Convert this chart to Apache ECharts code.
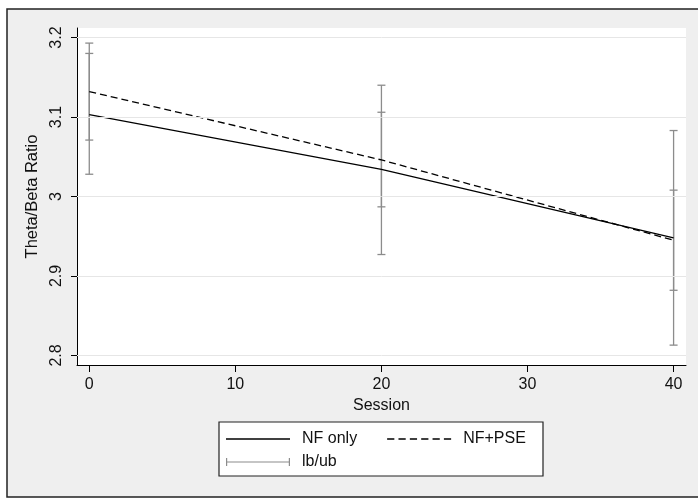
<!DOCTYPE html>
<html>
<head>
<meta charset="utf-8">
<script src="https://cdn.jsdelivr.net/npm/echarts@6/dist/echarts.min.js"></script>
<style>html,body{margin:0;padding:0;background:#fff}#c{width:698px;height:500px}</style>
</head>
<body>
<div id="c"></div>
<script>
const sessions = [0, 20, 40];
const nfOnly = [3.103, 3.034, 2.948];
const nfPse = [3.132, 3.046, 2.945];
const nfOnlyLb = [3.028, 2.927, 2.813];
const nfOnlyUb = [3.180, 3.140, 3.083];
const nfPseLb = [3.071, 2.987, 2.882];
const nfPseUb = [3.193, 3.106, 3.008];
const xTicks = [0, 10, 20, 30, 40];
const yTicks = [2.8, 2.9, 3.0, 3.1, 3.2];

const FONT = 'Liberation Sans, Arial, sans-serif';
const barRows = [];
sessions.forEach((s, i) => {
  barRows.push([s, nfOnlyLb[i], nfOnlyUb[i]]);
  barRows.push([s, nfPseLb[i], nfPseUb[i]]);
});
const barColor = '#8c8c8c';
const solidIcon = 'path://M0,0h64v1.3h-64z';
const dashedIcon = 'path://M0,0h7v1.3h-7z M11,0h7v1.3h-7z M22,0h7v1.3h-7z M33,0h7v1.3h-7z M44,0h7v1.3h-7z M55,0h7v1.3h-7z';
const capIcon = 'path://M0,0h1.2v8h-1.2z M0,3.4h64v1.2h-64z M62.8,0h1.2v8h-1.2z';

const chart = echarts.init(document.getElementById('c'));
chart.setOption({
  backgroundColor: '#ffffff',
  animation: false,
  graphic: [
    { type: 'rect', z: -100, shape: { x: 7, y: 9, width: 700, height: 488 },
      style: { fill: '#efefef', stroke: '#222', lineWidth: 1.5 } },
    { type: 'rect', z: 1, shape: { x: 219, y: 422, width: 324, height: 54 },
      style: { fill: '#ffffff', stroke: '#222', lineWidth: 1.2 } }
  ],
  grid: { left: 77, top: 28, right: 12, bottom: 135, show: true, backgroundColor: '#ffffff', borderWidth: 0, z: 0 },
  legend: [
    { left: 226, top: 431, padding: 0, itemWidth: 64, itemHeight: 8, itemGap: 30, z: 5,
      data: [{ name: 'NF only', icon: solidIcon }, { name: 'NF+PSE', icon: dashedIcon }],
      itemStyle: { color: '#000' },
      textStyle: { fontFamily: FONT, fontSize: 16, color: '#111', padding: [0, 0, 0, 7] } },
    { left: 226, top: 454, padding: 0, itemWidth: 64, itemHeight: 8, z: 5,
      data: [{ name: 'lb/ub', icon: capIcon }],
      textStyle: { fontFamily: FONT, fontSize: 16, color: '#111', padding: [0, 0, 0, 7] } }
  ],
  xAxis: {
    type: 'value', min: -0.84, max: 40.85,
    name: 'Session', nameLocation: 'middle', nameGap: 29,
    nameTextStyle: { fontFamily: FONT, fontSize: 16, color: '#111' },
    axisLine: { show: true, onZero: false, lineStyle: { color: '#000', width: 1 } },
    axisTick: { show: true, length: 7, customValues: xTicks, lineStyle: { color: '#000' } },
    axisLabel: { customValues: xTicks, fontFamily: FONT, fontSize: 16, color: '#111', margin: 12 },
    splitLine: { show: false }
  },
  yAxis: {
    type: 'value', min: 2.788, max: 3.212,
    name: 'Theta/Beta Ratio', nameLocation: 'middle', nameGap: 29,
    nameTextStyle: { fontFamily: FONT, fontSize: 16.5, color: '#111' },
    axisLine: { show: true, onZero: false, lineStyle: { color: '#000', width: 1 } },
    axisTick: { show: true, length: 6, customValues: yTicks, lineStyle: { color: '#000' } },
    axisLabel: { customValues: yTicks, rotate: 90, fontFamily: FONT, fontSize: 16, color: '#111', margin: 12,
      formatter: v => String(Math.round(v * 10) / 10) },
    splitLine: { show: false }
  },
  series: [
    { type: 'line', name: 'grid', data: [], z: 1, silent: true,
      markLine: { silent: true, symbol: 'none', label: { show: false },
        lineStyle: { color: '#e6e6e6', type: 'solid', width: 1 },
        data: yTicks.map(v => ({ yAxis: v })) } },
    { type: 'custom', name: 'lb/ub', z: 2, itemStyle: { color: barColor },
      data: barRows,
      renderItem: (params, api) => {
        const x = api.value(0);
        const lo = api.coord([x, api.value(1)]);
        const hi = api.coord([x, api.value(2)]);
        const w = 4;
        const st = { stroke: barColor, lineWidth: 1.3 };
        return { type: 'group', children: [
          { type: 'line', shape: { x1: lo[0], y1: lo[1], x2: hi[0], y2: hi[1] }, style: st },
          { type: 'line', shape: { x1: lo[0] - w, y1: lo[1], x2: lo[0] + w, y2: lo[1] }, style: st },
          { type: 'line', shape: { x1: hi[0] - w, y1: hi[1], x2: hi[0] + w, y2: hi[1] }, style: st }
        ]};
      } },
    { type: 'line', name: 'NF only', z: 3, symbol: 'none', color: '#000',
      data: sessions.map((s, i) => [s, nfOnly[i]]),
      lineStyle: { color: '#000', width: 1.3, type: 'solid' } },
    { type: 'line', name: 'NF+PSE', z: 3, symbol: 'none', color: '#000',
      data: sessions.map((s, i) => [s, nfPse[i]]),
      lineStyle: { color: '#000', width: 1.3, type: [7, 4] } }
  ]
});
</script>
</body>
</html>
